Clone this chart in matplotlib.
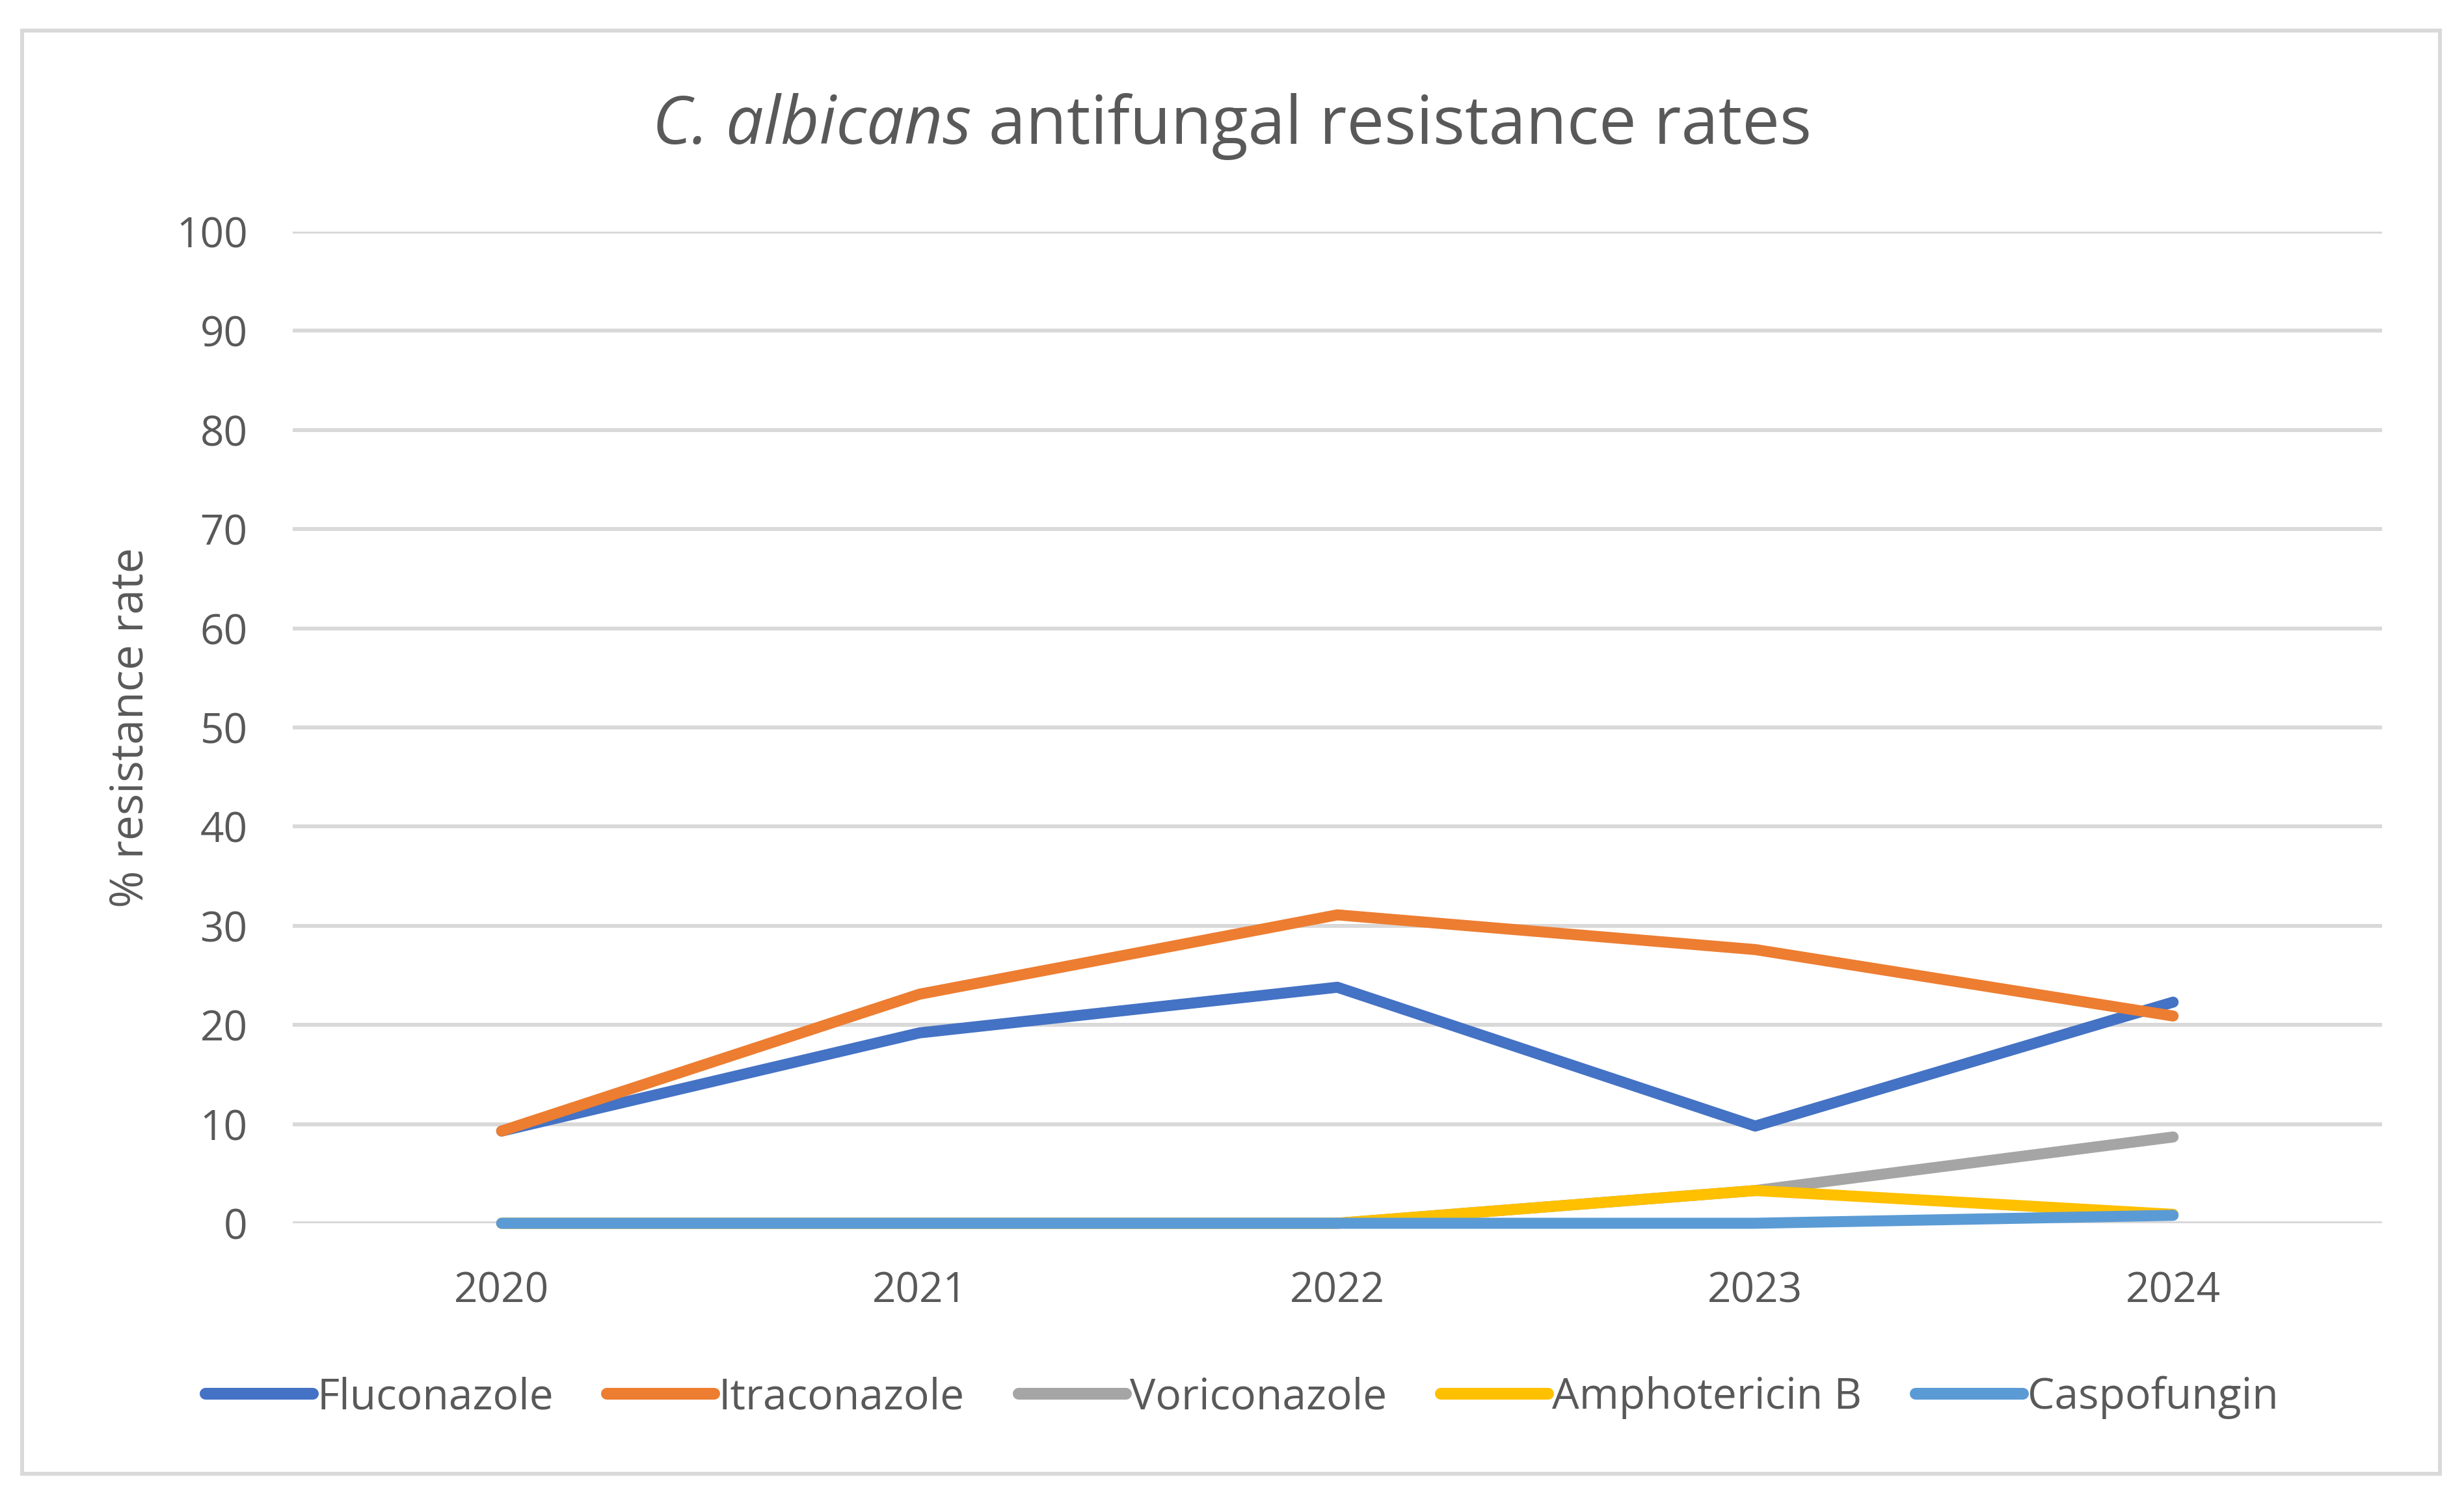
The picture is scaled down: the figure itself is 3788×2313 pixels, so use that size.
import matplotlib.pyplot as plt
from matplotlib.patches import Rectangle

years = ["2020", "2021", "2022", "2023", "2024"]
fluconazole = [9.3, 19.2, 23.8, 9.8, 22.3]
itraconazole = [9.3, 23.1, 31.1, 27.6, 20.9]
voriconazole = [0, 0, 0, 3.3, 8.7]
amphotericin_b = [0, 0, 0, 3.3, 0.9]
caspofungin = [0, 0, 0, 0, 0.8]

series = [
    ("Fluconazole", fluconazole, "#4472C4"),
    ("Itraconazole", itraconazole, "#ED7D31"),
    ("Voriconazole", voriconazole, "#A5A5A5"),
    ("Amphotericin B", amphotericin_b, "#FFC000"),
    ("Caspofungin", caspofungin, "#5B9BD5"),
]

plt.rcParams['font.family'] = ['Open Sans', 'DejaVu Sans']
text_color = "#595959"
grid_color = "#D9D9D9"

W, H = 3788, 2313
fig = plt.figure(figsize=(W / 100, H / 100), dpi=100)

# outer chart border
fig.patches.append(Rectangle((34 / W, 1 - 2265 / H), (3751 - 34) / W, (2265 - 47) / H,
                             transform=fig.transFigure, fill=False,
                             edgecolor=grid_color, linewidth=4.3))

ax = fig.add_axes([450 / W, 1 - 1880 / H, (3662 - 450) / W, (1880 - 356) / H])

x = range(len(years))
for name, vals, color in series:
    ax.plot(x, vals, color=color, linewidth=12.2, label=name,
            solid_capstyle="round", solid_joinstyle="round", clip_on=False, zorder=3)

ax.set_xlim(-0.5, len(years) - 0.5)
ax.set_ylim(0, 100)
ax.set_yticks(range(0, 101, 10))
ax.set_xticks(list(x))
ax.set_xticklabels(years)
ax.grid(axis="y", color=grid_color, linewidth=4.3)
ax.set_axisbelow(True)
for s in ["top", "right", "left", "bottom"]:
    ax.spines[s].set_visible(False)
ax.tick_params(length=0, labelsize=46, colors=text_color)
ax.tick_params(axis="y", pad=50)
ax.tick_params(axis="x", pad=52)

ax.set_ylabel("% resistance rate", fontsize=50, color=text_color)
ax.yaxis.set_label_coords(-0.0666, 0.5)

# title: italic species name followed by plain text, centred as one line
renderer = fig.canvas.get_renderer()
t1 = fig.text(0, 1 - 194 / H, "C. albicans", style="italic",
              ha="left", va="center", fontsize=74, color=text_color)
t2 = fig.text(0, 1 - 194 / H, " antifungal resistance rates",
              ha="left", va="center", fontsize=74, color=text_color)
w1 = t1.get_window_extent(renderer).width
w2 = t2.get_window_extent(renderer).width
x0 = 1894 - (w1 + w2) / 2
t1.set_x(x0 / W)
t2.set_x((x0 + w1) / W)

leg = fig.legend(loc="center", bbox_to_anchor=(1909 / W, 1 - 2148 / H), ncol=5,
                 frameon=False, fontsize=47.5, handlelength=2.5, handletextpad=0.1,
                 columnspacing=1.25, labelcolor=text_color)
for line in leg.get_lines():
    line.set_solid_capstyle("round")
    line.set_linewidth(13)

fig.savefig("out.png", dpi=100)
